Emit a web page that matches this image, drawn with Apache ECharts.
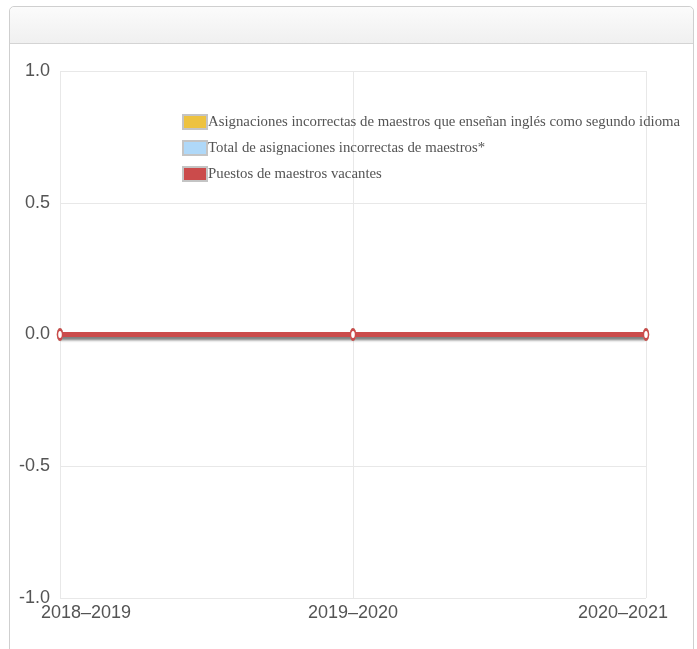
<!DOCTYPE html>
<html><head><meta charset="utf-8">
<script src="https://cdn.jsdelivr.net/npm/echarts@6/dist/echarts.min.js"></script>
<style>
html,body{margin:0;padding:0;background:#fff;width:697px;height:649px;overflow:hidden;}
#card{position:absolute;left:9px;top:6px;width:685px;height:700px;border:1px solid #cfcfcf;border-radius:5px 5px 0 0;box-sizing:border-box;}
#hdr{height:36px;background:linear-gradient(#fbfbfb,#f0f0f0);border-bottom:1px solid #d4d4d4;border-radius:5px 5px 0 0;}
#chart{position:absolute;left:0;top:0;width:697px;height:649px;}
</style></head>
<body>
<div id="card"><div id="hdr"></div></div>
<div id="chart"></div>
<script>
const categories = ['2018–2019', '2019–2020', '2020–2021'];
const seriesNames = [
  'Asignaciones incorrectas de maestros que enseñan inglés como segundo idioma',
  'Total de asignaciones incorrectas de maestros*',
  'Puestos de maestros vacantes'
];
const esl = [0, 0, 0];
const totalMisassign = [0, 0, 0];
const vacancies = [0, 0, 0];
const colors = ['#edc240', '#afd8f8', '#cb4b4b'];

const chart = echarts.init(document.getElementById('chart'), null, {renderer: 'canvas'});
const values = [esl, totalMisassign, vacancies];
const labelFont = {fontFamily: 'Liberation Sans, Arial, sans-serif', fontSize: 18, color: '#545454'};
chart.setOption({
  animation: false,
  backgroundColor: 'transparent',
  grid: {left: 60, right: 51, top: 71, bottom: 51, containLabel: false},
  legend: {
    orient: 'vertical', left: 182, top: 114, padding: 0, itemWidth: 24, itemHeight: 14, itemGap: 10,
    icon: 'rect',
    textStyle: {fontFamily: 'Liberation Serif, serif', fontSize: 14.8, color: '#545454', padding: [0,0,0,-4]},
    data: seriesNames.map((n, i) => ({name: n, itemStyle: {color: colors[i], borderColor: '#c4c4c4', borderWidth: 2}}))
  },
  xAxis: {
    type: 'category', boundaryGap: false,
    data: categories.map((c, i) => ({
      value: c,
      textStyle: i === 0 ? {padding: [0,0,0,52]} : (i === categories.length - 1 ? {padding: [0,46,0,0]} : {})
    })),
    axisLine: {show: true, lineStyle: {color: '#dcdcdc', width: 1}},
    axisTick: {show: false},
    axisLabel: Object.assign({margin: 6, interval: 0}, labelFont),
    splitLine: {show: true, lineStyle: {color: '#e8e8e8', width: 1}}
  },
  yAxis: {
    type: 'value', min: -1, max: 1, interval: 0.5,
    axisLine: {show: false}, axisTick: {show: false},
    axisLabel: Object.assign({margin: 10, padding: [0,0,12,0], formatter: v => v.toFixed(1)}, labelFont),
    splitLine: {show: true, lineStyle: {color: '#e8e8e8', width: 1}}
  },
  series: seriesNames.map((n, i) => ({
    name: n, type: 'line', data: values[i],
    symbol: 'emptyCircle', symbolSize: [5, 10],
    itemStyle: {color: colors[i], borderWidth: 2},
    lineStyle: {color: colors[i], width: 5, shadowColor: 'rgba(0,0,0,0.22)', shadowBlur: 3, shadowOffsetY: 3},
    z: 2 + i
  }))
});
</script>
</body></html>
